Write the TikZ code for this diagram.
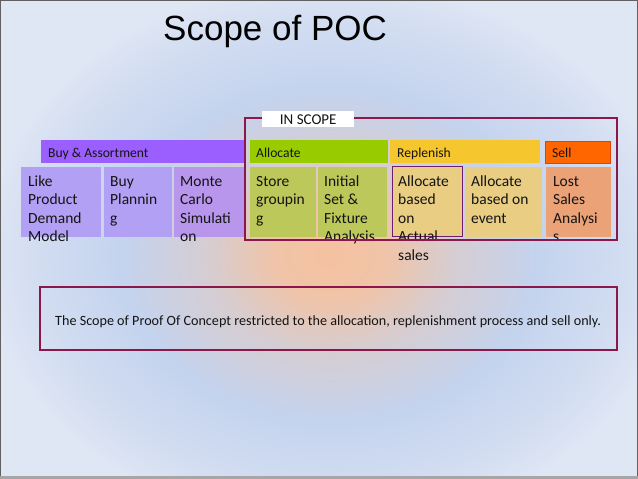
\documentclass[tikz,border=0pt]{standalone}
\usepackage{fontspec}
\setmainfont{Carlito}
\newfontfamily\titlefont{Liberation Sans}
\usetikzlibrary{fit}
\definecolor{bgedge}{RGB}{223,230,244}
\definecolor{midblue}{RGB}{196,211,238}
\definecolor{peach}{RGB}{245,194,160}
\definecolor{framecol}{RGB}{138,24,74}
\definecolor{innerframe}{RGB}{110,30,110}
\definecolor{buybar}{RGB}{155,95,255}
\definecolor{buybox}{RGB}{178,160,245}
\definecolor{buyboxb}{RGB}{184,150,236}
\definecolor{allocbar}{RGB}{153,204,0}
\definecolor{allocbox}{RGB}{188,200,90}
\definecolor{replbar}{RGB}{245,198,45}
\definecolor{replbox}{RGB}{232,205,130}
\definecolor{sellbar}{RGB}{255,102,0}
\definecolor{sellborder}{RGB}{222,70,0}
\definecolor{sellbox}{RGB}{234,162,118}
\definecolor{txt}{RGB}{20,20,20}
\pgfdeclareradialshading{glow}{\pgfpoint{0bp}{0bp}}{color(0bp)=(peach); color(4bp)=(peach!90!midblue); color(9bp)=(peach!35!midblue); color(15bp)=(midblue); color(21bp)=(bgedge!50!midblue); color(25bp)=(bgedge); color(50bp)=(bgedge)}
\tikzset{
  boxfit/.style={inner sep=0pt, outer sep=0pt},
  hdrtxt/.style={anchor=base west, inner sep=0pt, text=txt, font=\fontsize{13.6}{15}\selectfont},
  ctxt/.style={anchor=north west, inner sep=0pt, align=left, text=txt, font=\fontsize{15.5}{18.5}\selectfont},
}
\begin{document}
\begin{tikzpicture}[x=1pt,y=-1pt]
\useasboundingbox (0,0) rectangle (638,479);
\fill[bgedge] (0,0) rectangle (638,479);
\shade[shading=glow] (330,255) ellipse [x radius=345, y radius=275];
\draw[gray!75!black, line width=1.2pt] (0.6,0.6) rectangle (637.4,478.4);
\draw[gray!70, line width=3pt] (0,477.5) -- (638,477.5);

% title
\node[anchor=base west, inner sep=0pt, font=\titlefont\fontsize{35}{40}\selectfont] (title) at (163,41) {Scope of POC};

% header bars
\node[boxfit, fill=buybar, fit={(41,140)(245,163)}] (hbuy) {};
\node[boxfit, fill=allocbar, fit={(250,140)(388,163)}] (halloc) {};
\node[boxfit, fill=replbar, fit={(390,140)(540,163)}] (hrepl) {};
\node[boxfit, fill=sellbar, draw=sellborder, line width=0.8pt, fit={(545,141)(610,163)}] (hsell) {};
\node[hdrtxt] (thbuy) at (48,157) {Buy \& Assortment};
\node[hdrtxt] (thalloc) at (256,157) {Allocate};
\node[hdrtxt] (threpl) at (397,157) {Replenish};
\node[hdrtxt] (thsell) at (552,157.5) {Sell};

% content boxes
\node[boxfit, fill=buybox, fit={(21,167)(101,237)}] (blike) {};
\node[boxfit, fill=buybox, fit={(104,167)(172,237)}] (bbuy) {};
\node[boxfit, fill=buyboxb, fit={(174,167)(245,237)}] (bmonte) {};
\node[boxfit, fill=allocbox, fit={(250,167)(316,237)}] (bstore) {};
\node[boxfit, fill=allocbox, fit={(318,167)(387,237)}] (binit) {};
\node[boxfit, fill=replbox, fit={(392,167)(463,237)}] (bact) {};
\node[boxfit, fill=replbox, fit={(465,167)(542,237)}] (bevent) {};
\node[boxfit, fill=sellbox, fit={(546,167)(611,237)}] (blost) {};
\node[boxfit, draw=innerframe, line width=1pt, fit={(392,166.5)(462.5,236.5)}] (bactframe) {};

% content texts
\node[ctxt] (tlike) at (28,173) {\strut Like\\Product\\Demand\\Model};
\node[ctxt] (tbuy) at (110,173) {\strut Buy\\Plannin\\g};
\node[ctxt] (tmonte) at (180,173) {\strut Monte\\Carlo\\Simulati\\on};
\node[ctxt] (tstore) at (256,173) {\strut Store\\groupin\\g};
\node[ctxt] (tinit) at (324,173) {\strut Initial\\Set \&\\Fixture\\Analysis};
\node[ctxt] (tact) at (398,173) {\strut Allocate\\based\\on\\Actual\\sales};
\node[ctxt] (tevent) at (471,173) {\strut Allocate\\based on\\event};
\node[ctxt] (tlost) at (553,173) {\strut Lost\\Sales\\Analysi\\s};

% in scope frame
\node[boxfit, draw=framecol, line width=1.6pt, fit={(245,118)(617,240)}] (scope) {};
\node[anchor=north west, fill=white, inner sep=0pt, minimum width=92pt, minimum height=16pt, text=txt, font=\fontsize{15}{17}\selectfont] (inscope) at (262,111) {IN SCOPE};

% bottom note
\node[boxfit, draw=framecol, line width=1.8pt, fit={(40,287)(617,350)}] (note) {};
\node[anchor=base west, inner sep=0pt, text=txt, font=\fontsize{14.15}{16}\selectfont] (notetxt) at (55,325) {The Scope of Proof Of Concept restricted to the allocation, replenishment process and sell only.};
\end{tikzpicture}
\end{document}
